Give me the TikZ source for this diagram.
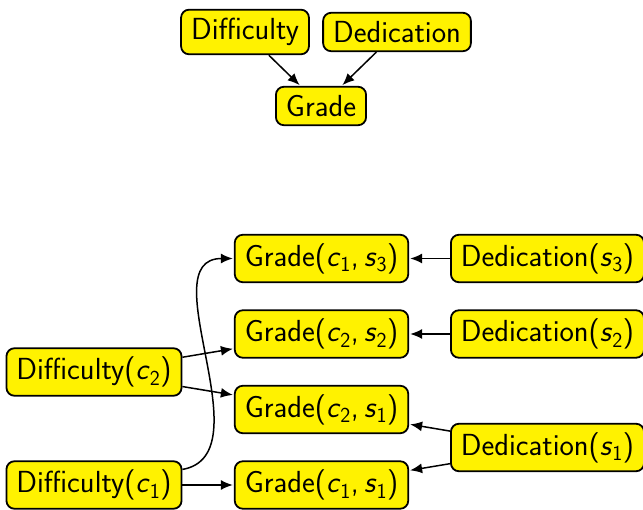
\documentclass[tikz,border=0pt]{standalone}
\usepackage{fontspec}
\usetikzlibrary{arrows.meta}
\definecolor{boxyellow}{RGB}{255,242,0}
\newcommand{\vv}[2]{\textit{#1}\textsubscript{#2}}
\tikzset{
  box/.style={draw=black, line width=1.8pt, fill=boxyellow, rounded corners=8pt,
    font=\sffamily\fontsize{30.5}{36}\selectfont, inner xsep=10pt, inner ysep=8.5pt},
  arr/.style={line width=1.5pt, -{Latex[length=12pt,width=10pt]}, shorten >=1pt}
}
\begin{document}
\begin{tikzpicture}[x=1pt,y=-1pt]
\useasboundingbox (0,0) rectangle (643,510);
% top
\node[box] (dif) at (245,32) {Difficulty};
\node[box] (ded) at (397,32) {Dedication};
\node[box] (gr) at (321,106) {Grade};
\draw[arr] (dif) -- (gr);
\draw[arr] (ded) -- (gr);
% bottom
\node[box] (g13) at (321.5,258.5) {Grade(\vv{c}{1},\,\vv{s}{3})};
\node[box] (g22) at (321.5,334) {Grade(\vv{c}{2},\,\vv{s}{2})};
\node[box] (g21) at (321.5,409.5) {Grade(\vv{c}{2},\,\vv{s}{1})};
\node[box] (g11) at (321.5,485) {Grade(\vv{c}{1},\,\vv{s}{1})};
\node[box] (d2) at (94,372) {Difficulty(\vv{c}{2})};
\node[box] (d1) at (94,485) {Difficulty(\vv{c}{1})};
\node[box] (s3) at (547.5,258.5) {Dedication(\vv{s}{3})};
\node[box] (s2) at (547.5,334) {Dedication(\vv{s}{2})};
\node[box] (s1) at (547.5,447.5) {Dedication(\vv{s}{1})};
\draw[arr] (d2) -- (g22);
\draw[arr] (d2) -- (g21);
\draw[arr] (d1) -- (g11);
\draw[arr] (d1) to[out=10,in=180] (g13);
\draw[arr] (s3) -- (g13);
\draw[arr] (s2) -- (g22);
\draw[arr] (s1) -- (g21);
\draw[arr] (s1) -- (g11);
\end{tikzpicture}
\end{document}
